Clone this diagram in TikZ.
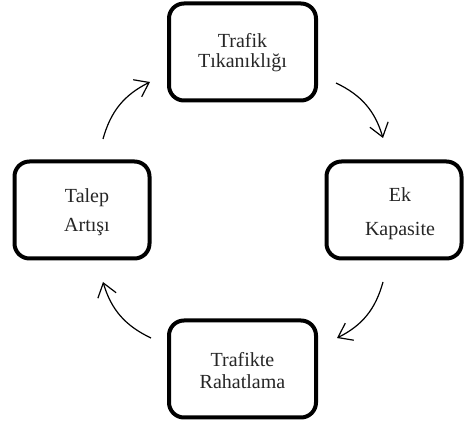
\documentclass[tikz,border=0pt]{standalone}
\usepackage{fontspec}
\setmainfont{Liberation Serif}
\usetikzlibrary{arrows.meta}
\begin{document}
\begin{tikzpicture}[x=1pt,y=-1pt,
  box/.style={draw=black,line width=4pt,rounded corners=15pt,fill=white,
    minimum width=#1,minimum height=97pt,inner sep=0pt},
  txt/.style={align=center,font=\fontsize{20}{#1}\selectfont,text=black!85,inner sep=0pt},
  cyc/.style={line width=1.2pt,bend left=24,
    -{Straight Barb[length=13pt,width=19pt,line width=1.2pt]}}]
\useasboundingbox (0,0) rectangle (464,422);
\node[box=147pt] (T) at (242.5,52) {};
\node[box=135pt] (R) at (394,210) {};
\node[box=135pt] (L) at (82,210) {};
\node[box=147pt] (B) at (242.5,369) {};
\node[txt=20pt] (tT) at (242.5,53) {Trafik\\Tıkanıklığı};
\node[txt=34pt] (tR) at (400,214) {Ek\\Kapasite};
\node[txt=29pt] (tL) at (87,212) {Talep\\Artışı};
\node[txt=22pt] (tB) at (242.5,371) {Trafikte\\Rahatlama};
\coordinate (a1) at (103,139); \coordinate (b1) at (150,82);
\coordinate (a2) at (336,83);  \coordinate (b2) at (383,138);
\coordinate (a3) at (383,282); \coordinate (b3) at (337,338);
\coordinate (a4) at (151,338); \coordinate (b4) at (103,282);
\draw[cyc] (a1) to (b1);
\draw[cyc] (a2) to (b2);
\draw[cyc] (a3) to (b3);
\draw[cyc] (a4) to (b4);
\end{tikzpicture}
\end{document}
